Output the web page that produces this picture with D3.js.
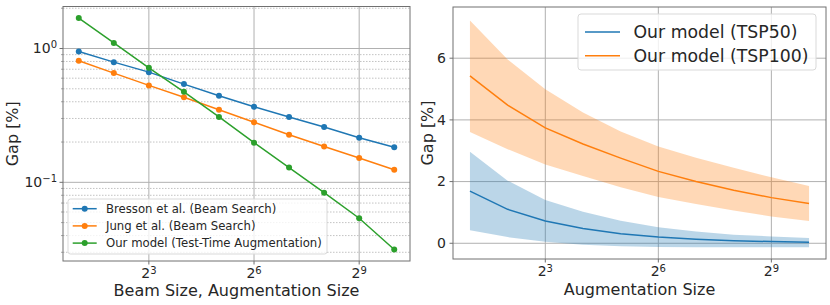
<!DOCTYPE html>
<html>
<head>
<meta charset="utf-8">
<script src="https://cdn.jsdelivr.net/npm/d3@7"></script>
<style>
  body { margin: 0; background: #fff; }
  svg { font-family: "DejaVu Sans", sans-serif; }
</style>
</head>
<body>
<svg id="chart" width="830" height="305"></svg>
<script>
// sizes 2^1 .. 2^10
const sizes = [2, 4, 8, 16, 32, 64, 128, 256, 512, 1024];

// left panel: gap vs beam / augmentation size (log-log)
const bresson = [0.950, 0.791, 0.666, 0.542, 0.443, 0.367, 0.308, 0.259, 0.215, 0.183];
const jung = [0.809, 0.655, 0.530, 0.432, 0.349, 0.281, 0.227, 0.185, 0.152, 0.124];
const ours = [1.69, 1.10, 0.717, 0.475, 0.308, 0.198, 0.129, 0.0837, 0.0539, 0.0315];

// right panel: mean gap and spread band
const tsp50Mean = [1.69, 1.10, 0.72, 0.48, 0.31, 0.20, 0.13, 0.085, 0.054, 0.03];
const tsp50Upper = [2.97, 2.03, 1.40, 1.02, 0.73, 0.52, 0.38, 0.28, 0.22, 0.17];
const tsp50Lower = [0.42, 0.20, 0.05, -0.05, -0.10, -0.12, -0.13, -0.13, -0.13, -0.13];
const tsp100Mean = [5.43, 4.48, 3.74, 3.22, 2.76, 2.33, 2.00, 1.72, 1.48, 1.29];
const tsp100Upper = [7.22, 5.96, 4.99, 4.24, 3.62, 3.14, 2.77, 2.45, 2.14, 1.86];
const tsp100Lower = [3.61, 3.05, 2.55, 2.18, 1.82, 1.50, 1.27, 1.06, 0.87, 0.72];

const xTicks = [8, 64, 512];
const leftYTicks = [0.1, 1];
const rightYTicks = [0, 2, 4, 6];
const leftLegend = ['Bresson et al. (Beam Search)', 'Jung et al. (Beam Search)', 'Our model (Test-Time Augmentation)'];
const rightLegend = ['Our model (TSP50)', 'Our model (TSP100)'];

const BLUE = '#1f77b4', ORANGE = '#ff7f0e', GREEN = '#2ca02c';
const GRID = '#b0b0b0';
const SPINE = '#707070';

const svg = d3.select('#chart');

function pow2Label (sel, v) {
  const e = Math.round(Math.log2(v));
  sel.text(null);
  sel.append('tspan').text('2');
  sel.append('tspan').attr('dy', '-0.45em').attr('font-size', '10px').text(e);
}

function drawXAxis (g, x, h) {
  g.selectAll('.xgrid').data(xTicks).join('line')
    .attr('x1', d => x(d)).attr('x2', d => x(d))
    .attr('y1', 0).attr('y2', h)
    .attr('stroke', GRID).attr('stroke-width', 1);
  const t = g.selectAll('.xtick').data(xTicks).join('g')
    .attr('transform', d => `translate(${x(d)},${h})`);
  t.append('line').attr('y2', 3.5).attr('stroke', SPINE);
  t.append('text').attr('y', 17).attr('text-anchor', 'middle')
    .attr('font-size', '14px').attr('fill', '#262626')
    .each(function (d) { pow2Label(d3.select(this), d); });
}

// ---------- left panel ----------
{
  const m = { left: 63, top: 6.5, right: 410, bottom: 261 };
  const w = m.right - m.left, h = m.bottom - m.top;
  const x = d3.scaleLog().base(2).domain([2 ** 0.55, 2 ** 10.45]).range([0, w]);
  const y = d3.scaleLog().domain([10 ** -1.588, 10 ** 0.314]).range([h, 0]);
  const g = svg.append('g').attr('transform', `translate(${m.left},${m.top})`);

  // minor grid (dotted)
  const minor = [];
  for (const dec of [0.01, 0.1, 1]) {
    for (let k = 2; k <= 9; k++) {
      const v = k * dec;
      if (v >= y.domain()[0] && v <= y.domain()[1]) minor.push(v);
    }
  }
  g.selectAll('.ygridMinor').data(minor).join('line')
    .attr('x1', 0).attr('x2', w)
    .attr('y1', d => y(d)).attr('y2', d => y(d))
    .attr('stroke', '#b4b4b4').attr('stroke-width', 0.8)
    .attr('stroke-dasharray', '1.5,1.5');
  g.selectAll('.ygrid').data(leftYTicks).join('line')
    .attr('x1', 0).attr('x2', w)
    .attr('y1', d => y(d)).attr('y2', d => y(d))
    .attr('stroke', GRID).attr('stroke-width', 1);
  g.selectAll('.yminorTick').data(minor).join('line')
    .attr('x1', -2).attr('x2', 0)
    .attr('y1', d => y(d)).attr('y2', d => y(d))
    .attr('stroke', SPINE).attr('stroke-width', 0.6);

  drawXAxis(g, x, h);

  const yt = g.selectAll('.ytick').data(leftYTicks).join('g')
    .attr('transform', d => `translate(0,${y(d)})`);
  yt.append('line').attr('x2', -3.5).attr('stroke', SPINE);
  yt.append('text').attr('x', -6).attr('dy', '0.35em').attr('text-anchor', 'end')
    .attr('font-size', '14px').attr('fill', '#262626')
    .each(function (d) {
      const s = d3.select(this);
      const e = Math.round(Math.log10(d));
      s.append('tspan').text('10');
      s.append('tspan').attr('dy', '-0.5em').attr('font-size', '10px')
        .text(e < 0 ? '\u2212' + (-e) : e);
    });

  const series = [
    { values: bresson, color: BLUE },
    { values: jung, color: ORANGE },
    { values: ours, color: GREEN }
  ];
  const line = d3.line().x((d, i) => x(sizes[i])).y(d => y(d));
  for (const s of series) {
    g.append('path').attr('d', line(s.values))
      .attr('fill', 'none').attr('stroke', s.color).attr('stroke-width', 1.5);
    g.selectAll(null).data(s.values).join('circle')
      .attr('cx', (d, i) => x(sizes[i])).attr('cy', d => y(d))
      .attr('r', 3).attr('fill', s.color);
  }

  // legend
  const lg = g.append('g').attr('transform', `translate(${68 - m.left},${199 - m.top})`);
  lg.append('rect').attr('width', 259).attr('height', 55).attr('rx', 2.5)
    .attr('fill', 'rgba(255,255,255,0.8)').attr('stroke', '#d9d9d9');
  leftLegend.forEach((label, i) => {
    const row = lg.append('g').attr('transform', `translate(0,${9.7 + i * 17.2})`);
    row.append('line').attr('x1', 4.7).attr('x2', 28.7)
      .attr('stroke', series[i].color).attr('stroke-width', 1.5);
    row.append('circle').attr('cx', 16.7).attr('r', 3).attr('fill', series[i].color);
    row.append('text').attr('x', 38).attr('dy', '0.35em')
      .attr('font-size', '11.7px').attr('fill', '#262626').text(label);
  });

  g.append('rect').attr('width', w).attr('height', h)
    .attr('fill', 'none').attr('stroke', SPINE).attr('stroke-width', 1);

  svg.append('text').attr('x', (m.left + m.right) / 2).attr('y', 296)
    .attr('text-anchor', 'middle').attr('font-size', '16px').attr('fill', '#262626')
    .text('Beam Size, Augmentation Size');
  svg.append('text')
    .attr('transform', `translate(18,${(m.top + m.bottom) / 2}) rotate(-90)`)
    .attr('text-anchor', 'middle').attr('font-size', '16px').attr('fill', '#262626')
    .text('Gap [%]');
}

// ---------- right panel ----------
{
  const m = { left: 453, top: 7, right: 826, bottom: 259 };
  const w = m.right - m.left, h = m.bottom - m.top;
  const x = d3.scaleLog().base(2).domain([2 ** 0.55, 2 ** 10.45]).range([0, w]);
  const y = d3.scaleLinear().domain([-0.51, 7.66]).range([h, 0]);
  const g = svg.append('g').attr('transform', `translate(${m.left},${m.top})`);

  g.selectAll('.ygrid').data(rightYTicks).join('line')
    .attr('x1', 0).attr('x2', w)
    .attr('y1', d => y(d)).attr('y2', d => y(d))
    .attr('stroke', GRID).attr('stroke-width', 1);

  drawXAxis(g, x, h);

  const yt = g.selectAll('.ytick').data(rightYTicks).join('g')
    .attr('transform', d => `translate(0,${y(d)})`);
  yt.append('line').attr('x2', -3.5).attr('stroke', SPINE);
  yt.append('text').attr('x', -7).attr('dy', '0.35em').attr('text-anchor', 'end')
    .attr('font-size', '14px').attr('fill', '#262626').text(d => d);

  const bands = [
    { mean: tsp50Mean, lo: tsp50Lower, hi: tsp50Upper, color: BLUE },
    { mean: tsp100Mean, lo: tsp100Lower, hi: tsp100Upper, color: ORANGE }
  ];
  const area = d3.area().x((d, i) => x(sizes[i]));
  const line = d3.line().x((d, i) => x(sizes[i])).y(d => y(d));
  for (const b of bands) {
    g.append('path')
      .attr('d', area.y0((d, i) => y(b.lo[i])).y1((d, i) => y(b.hi[i]))(b.mean))
      .attr('fill', b.color).attr('fill-opacity', 0.3);
  }
  for (const b of bands) {
    g.append('path').attr('d', line(b.mean))
      .attr('fill', 'none').attr('stroke', b.color).attr('stroke-width', 1.5);
  }

  const lg = g.append('g').attr('transform', `translate(${578 - m.left},${14 - m.top})`);
  lg.append('rect').attr('width', 238).attr('height', 56).attr('rx', 3)
    .attr('fill', 'rgba(255,255,255,0.8)').attr('stroke', '#d9d9d9');
  rightLegend.forEach((label, i) => {
    const row = lg.append('g').attr('transform', `translate(0,${18 + i * 23.7})`);
    row.append('line').attr('x1', 7).attr('x2', 42)
      .attr('stroke', bands[i].color).attr('stroke-width', 1.5);
    row.append('text').attr('x', 55.5).attr('dy', '0.35em')
      .attr('font-size', '17.3px').attr('fill', '#262626').text(label);
  });

  g.append('rect').attr('width', w).attr('height', h)
    .attr('fill', 'none').attr('stroke', SPINE).attr('stroke-width', 1);

  svg.append('text').attr('x', (m.left + m.right) / 2).attr('y', 295)
    .attr('text-anchor', 'middle').attr('font-size', '16px').attr('fill', '#262626')
    .text('Augmentation Size');
  svg.append('text')
    .attr('transform', `translate(433,${(m.top + m.bottom) / 2}) rotate(-90)`)
    .attr('text-anchor', 'middle').attr('font-size', '16px').attr('fill', '#262626')
    .text('Gap [%]');
}
</script>
</body>
</html>
